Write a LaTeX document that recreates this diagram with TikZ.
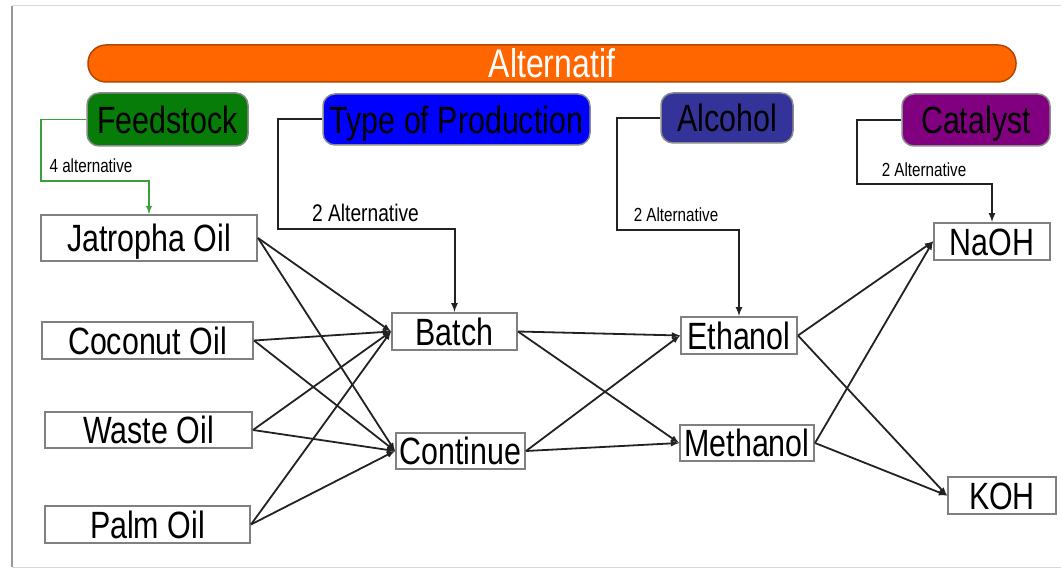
\documentclass[tikz,border=0pt]{standalone}
\usepackage{fontspec}
\setmainfont{Liberation Sans}[FakeStretch=0.8]
\usetikzlibrary{arrows,positioning}

\definecolor{altorange}{RGB}{255,102,0}
\definecolor{feedgreen}{RGB}{8,124,8}
\definecolor{prodblue}{RGB}{0,0,255}
\definecolor{alcblue}{RGB}{51,51,153}
\definecolor{catpurple}{RGB}{128,0,128}
\definecolor{boxgray}{RGB}{128,128,128}
\definecolor{linegreen}{RGB}{58,160,58}
\definecolor{linedark}{RGB}{34,34,34}

\newcommand\bigtxt{\fontsize{38}{40}\selectfont}
\newcommand\labtxt{\fontsize{19}{21}\selectfont}

\begin{document}
\begin{tikzpicture}[x=1pt,y=-1pt,
    head/.style={rounded corners=12pt,draw=black!45,line width=1.5pt,inner sep=0pt,
                 font=\bigtxt,text height=27.5pt,text depth=0pt},
    altbox/.style={draw=boxgray,fill=white,line width=2pt,inner sep=0pt,
                 font=\bigtxt,text height=27.5pt,text depth=0pt},
    link/.style={-latex,draw=linedark,line width=1.8pt},
    elbow/.style={-latex,draw=linedark,line width=2pt},
    note/.style={font=\labtxt,inner sep=0pt}]

\useasboundingbox (0,0) rectangle (1061,569);

% Frame of the page.
    \draw[black!15,line width=1pt] (12,6) -- (1070,6);
    \draw[black!15,line width=1pt] (12,567) -- (1070,567);
    \draw[black!40,line width=1.5pt] (12,6) -- (12,567);

% ALTERNATIF bar
    \node[fill=altorange,draw=altorange!70!black,line width=1.5pt,rounded corners=18pt,
          minimum width=928pt,minimum height=37pt,inner sep=0pt,text=white,
          font=\fontsize{40}{42}\selectfont,text height=28pt,text depth=0pt] (alt) at (552,63.5) {Alternatif};

% Criteria headers.
    \node[head,fill=feedgreen,minimum width=161pt,minimum height=53pt] (feed) at (167.5,119.5) {Feedstock};
    \node[head,fill=prodblue,minimum width=267pt,minimum height=51pt] (prod) at (456.5,119.5) {Type of Production};
    \node[head,fill=alcblue,minimum width=132pt,minimum height=50pt] (alc) at (727,118) {Alcohol};
    \node[head,fill=catpurple,minimum width=148pt,minimum height=52pt] (cat) at (976,120) {Catalyst};

% Alternatives.
    \node[altbox,minimum width=216pt,minimum height=46pt] (jat) at (149,238) {Jatropha Oil};
    \node[altbox,minimum width=211pt,minimum height=37pt] (coco) at (147.5,340.5) {Coconut Oil};
    \node[altbox,minimum width=207pt,minimum height=36pt] (waste) at (148.5,430) {Waste Oil};
    \node[altbox,minimum width=205pt,minimum height=37pt] (palm) at (147.5,524.5) {Palm Oil};

    \node[altbox,minimum width=125pt,minimum height=37pt] (batch) at (454.5,331.5) {Batch};
    \node[altbox,minimum width=129pt,minimum height=36pt] (cont) at (460.5,451) {Continue};

    \node[altbox,minimum width=116pt,minimum height=37pt] (eth) at (739,335.5) {Ethanol};
    \node[altbox,minimum width=134pt,minimum height=36pt] (meth) at (747,443) {Methanol};

    \node[altbox,minimum width=116pt,minimum height=37pt] (naoh) at (992,241.5) {NaOH};
    \node[altbox,minimum width=108pt,minimum height=37pt] (koh) at (1002,495.5) {KOH};

% Define coordinates for the elbow lines.
    \coordinate (feedbend) at (41,181);
    \coordinate (prodbend) at (278,229);
    \coordinate (alcbend) at (617,230);
    \coordinate (catbend) at (857,184);

% Header lines with number of alternatives.
    \draw[elbow,draw=linegreen,line width=1.8pt] (feed.west) -| (feedbend) -| (jat.north);
    \draw[elbow] (prod.west) -| (prodbend) -| (batch.north);
    \draw[elbow] (alc.west) -| (alcbend) -| (eth.north);
    \draw[elbow] (cat.west) -| (catbend) -| (naoh.north);

    \node[note] (feednote) at (91,166) {4 alternative};
    \node[note,font=\fontsize{24}{26}\selectfont] (prodnote) at (365.5,212.5) {2 Alternative};
    \node[note] (alcnote) at (676,215) {2 Alternative};
    \node[note] (catnote) at (924,169.5) {2 Alternative};

% Links between alternatives.
    \foreach \a in {jat,coco,waste,palm}
        \foreach \b in {batch,cont}
            \draw[link] (\a.east) -- (\b.west);
    \foreach \a in {batch,cont}
        \foreach \b in {eth,meth}
            \draw[link] (\a.east) -- (\b.west);
    \foreach \a in {eth,meth}
        \foreach \b in {naoh,koh}
            \draw[link] (\a.east) -- (\b.west);

\end{tikzpicture}
\end{document}
